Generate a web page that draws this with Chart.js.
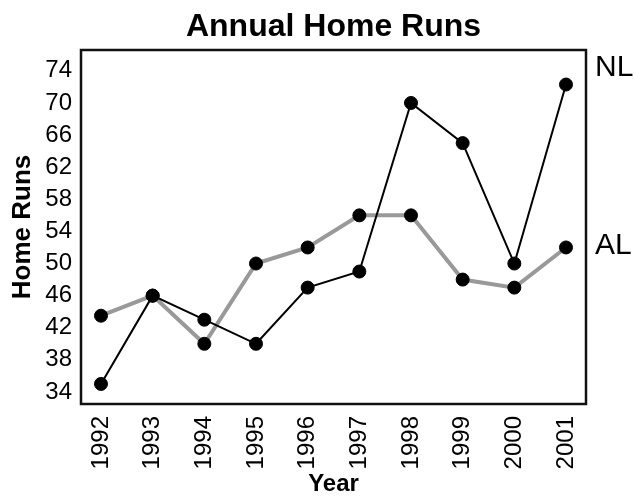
<!DOCTYPE html>
<html>
<head>
<meta charset="utf-8">
<script src="https://cdn.jsdelivr.net/npm/chart.js@4.4.1/dist/chart.umd.min.js"></script>
<style>
  html, body { margin: 0; padding: 0; background: #fff; }
  #wrap { width: 634px; height: 496px; }
</style>
</head>
<body>
<div id="wrap"><canvas id="chart" width="634" height="496"></canvas></div>
<script>
  'use strict';

  var years = [1992, 1993, 1994, 1995, 1996, 1997, 1998, 1999, 2000, 2001];
  var nlHomeRuns = [35, 46, 43, 40, 47, 49, 70, 65, 50, 72.3];
  var alHomeRuns = [43.5, 46, 40, 50, 52, 56, 56, 48, 47, 52];
  var yTicks = [34, 38, 42, 46, 50, 54, 58, 62, 66, 70, 74];

  var FONT = "'Liberation Sans', Arial, Helvetica, sans-serif";

  function toPoints(values) {
    return values.map(function(v, i) {
      return { x: years[i], y: v };
    });
  }

  // box around plot + series names at right
  var frame = {
    id: 'frame',
    beforeDatasetsDraw: function(chart) {
      var a = chart.chartArea;
      var ctx = chart.ctx;
      ctx.save();
      ctx.strokeStyle = '#111';
      ctx.lineWidth = 2.5;
      ctx.strokeRect(a.left, a.top, a.right - a.left, a.bottom - a.top);
      ctx.restore();
    },
    afterDatasetsDraw: function(chart) {
      var a = chart.chartArea;
      var ctx = chart.ctx;
      var y = chart.scales.y;
      ctx.save();
      ctx.font = '30px ' + FONT;
      ctx.fillStyle = '#000';
      ctx.textAlign = 'left';
      ctx.textBaseline = 'middle';
      ctx.fillText('NL', a.right + 9, y.getPixelForValue(nlHomeRuns[nlHomeRuns.length - 1]) - 17);
      ctx.fillText('AL', a.right + 9, y.getPixelForValue(alHomeRuns[alHomeRuns.length - 1]) - 2);
      ctx.restore();
    }
  };

  new Chart(document.getElementById('chart'), {
    type: 'line',
    data: {
      datasets: [{
        label: 'NL',
        data: toPoints(nlHomeRuns),
        borderColor: '#000',
        borderWidth: 2,
        pointRadius: 6.5,
        pointBorderWidth: 1,
        pointBackgroundColor: '#000',
        pointBorderColor: '#000',
        tension: 0
      }, {
        label: 'AL',
        data: toPoints(alHomeRuns),
        borderColor: '#999',
        borderWidth: 4,
        pointRadius: 6.5,
        pointBorderWidth: 1,
        pointBackgroundColor: '#000',
        pointBorderColor: '#000',
        tension: 0
      }]
    },
    options: {
      responsive: false,
      animation: false,
      layout: { padding: { left: 0, right: 48, top: 0, bottom: 0 } },
      plugins: {
        legend: { display: false },
        tooltip: { enabled: false },
        title: {
          display: true,
          text: 'Annual Home Runs',
          fullSize: false,
          color: '#000',
          font: { family: FONT, size: 32, weight: 'bold', lineHeight: 1.2 },
          padding: { top: 8, bottom: 3.6 }
        }
      },
      scales: {
        x: {
          type: 'linear',
          min: 1991.613,
          max: 2001.387,
          grid: { display: false, drawTicks: false },
          border: { display: false },
          afterBuildTicks: function(scale) {
            scale.ticks = years.map(function(v) { return { value: v }; });
          },
          afterFit: function(scale) { scale.height = 92; },
          ticks: {
            autoSkip: false,
            minRotation: 90,
            maxRotation: 90,
            padding: 12,
            color: '#000',
            font: { family: FONT, size: 24 },
            callback: function(v) { return String(v); }
          },
          title: {
            display: true,
            text: 'Year',
            color: '#000',
            font: { family: FONT, size: 24, weight: 'bold', lineHeight: 1 },
            padding: { top: 0, bottom: 0 }
          }
        },
        y: {
          min: 32.5,
          max: 76.6,
          grid: { display: false, drawTicks: false },
          border: { display: false },
          afterBuildTicks: function(scale) {
            scale.ticks = yTicks.map(function(v) { return { value: v }; });
          },
          afterFit: function(scale) { scale.width = 81; },
          ticks: {
            padding: 9,
            color: '#000',
            font: { family: FONT, size: 24 }
          },
          title: {
            display: true,
            text: 'Home Runs',
            color: '#000',
            font: { family: FONT, size: 26, weight: 'bold', lineHeight: 1.2 },
            padding: { top: 7, bottom: 0 }
          }
        }
      }
    },
    plugins: [frame]
  });
</script>
</body>
</html>
